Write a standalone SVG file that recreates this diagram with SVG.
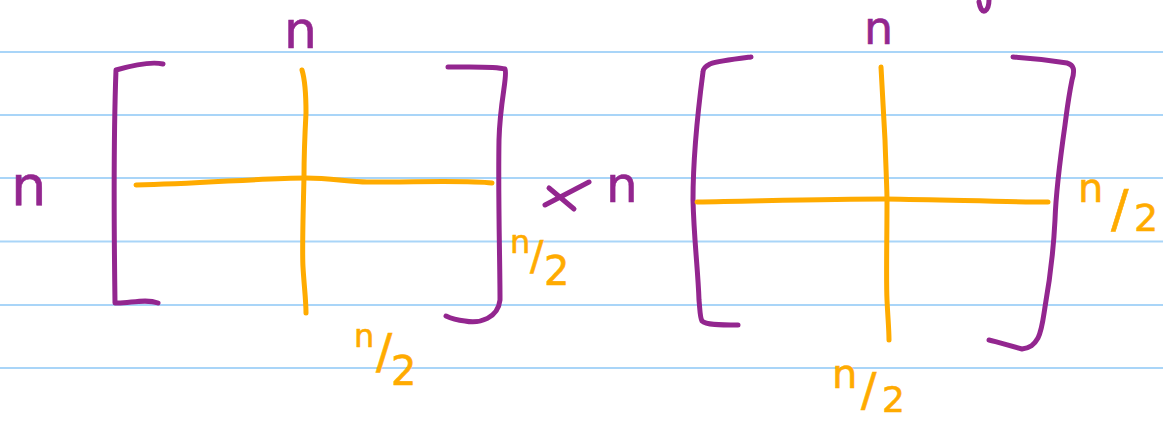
<svg xmlns="http://www.w3.org/2000/svg" width="1163" height="422" viewBox="0 0 1163 422">
<style>
.rule{stroke:#a9d5f8;stroke-width:2;fill:none}
.pu{stroke:#93268f;stroke-width:5;fill:none;stroke-linecap:round;stroke-linejoin:round}
.or{stroke:#ffab00;stroke-width:5;fill:none;stroke-linecap:round;stroke-linejoin:round}
.tp{font-family:"DejaVu Sans",sans-serif;fill:#93268f;stroke:#93268f;stroke-width:0.6}
.to{font-family:"DejaVu Sans",sans-serif;fill:#ffab00;stroke:#ffab00;stroke-width:0.6}
</style>
<rect width="1163" height="422" fill="#ffffff"/>
<g id="rules">
<line class="rule" x1="0" y1="52" x2="1163" y2="52"/>
<line class="rule" x1="0" y1="115" x2="1163" y2="115"/>
<line class="rule" x1="0" y1="178" x2="1163" y2="178"/>
<line class="rule" x1="0" y1="241.5" x2="1163" y2="241.5"/>
<line class="rule" x1="0" y1="305" x2="1163" y2="305"/>
<line class="rule" x1="0" y1="368" x2="1163" y2="368"/>
</g>
<g id="matrix-left">
<path class="pu" d="M163,64 C150,61 130,66 116,70 C113,150 114,230 115,303 C128,304 145,298 158,303"/>
<path class="pu" d="M448,67 C470,67 495,66 505,69 C508,75 500,100 499,140 C498,200 500,260 500,300 C498,318 480,324 465,321 C455,320 450,318 446,316"/>
<path class="or" d="M136,185 C200,184 260,178 306,178 C330,178 350,182 367,182 C420,182 470,180 492,183"/>
<path class="or" d="M302,70 C305,80 306,100 306,113 C304,150 304,177 304,177 C303,220 302,250 303,267 C304,285 306,300 306,313"/>
</g>
<g id="matrix-right">
<path class="pu" d="M751,57 C735,59 718,61 710,64 C704,67 703,70 703,72 C698,110 693,160 693,200 C694,240 698,270 699,300 C700,310 700,318 702,321 C706,325 720,325 738,325"/>
<path class="pu" d="M1013,57 C1030,58 1055,61 1067,63 C1074,65 1075,70 1072,80 C1068,100 1067,110 1065,125 C1060,160 1056,190 1055,220 C1053,260 1048,290 1045,307 C1043,320 1042,330 1038,338 C1034,345 1030,348 1022,349 C1010,346 998,342 989,340"/>
<path class="or" d="M697,202 C760,201 830,199 885,199 C950,200 1010,202 1048,202"/>
<path class="or" d="M881,67 C883,100 884,120 885,140 C886,170 887,190 887,200 C887,240 886,280 887,300 C888,320 889,330 889,340"/>
</g>
<g id="labels">
<text class="tp" x="284" y="48" font-size="52">n</text>
<text class="tp" x="11" y="205" font-size="56">n</text>
<path class="pu" d="M545,205 L589,182 M549,188 L574,209"/>
<text class="tp" x="606" y="202" font-size="50">n</text>
<text class="to" font-size="32"><tspan x="510" y="253">n</tspan><tspan x="530" y="270" font-size="40">/</tspan><tspan x="544" y="285" font-size="40">2</tspan></text>
<text class="to" font-size="32"><tspan x="354" y="347">n</tspan><tspan x="376" y="368" font-size="48">/</tspan><tspan x="391" y="385" font-size="40">2</tspan></text>
<text class="tp" x="864" y="44" font-size="46">n</text>
<text class="to" font-size="40"><tspan x="1078" y="202">n</tspan><tspan x="1111" y="227" font-size="52">/</tspan><tspan x="1134" y="231" font-size="38">2</tspan></text>
<text class="to" font-size="40"><tspan x="832" y="388">n</tspan><tspan x="861" y="406" font-size="46">/</tspan><tspan x="882" y="412" font-size="36">2</tspan></text>
<path class="pu" d="M979,2 C980,8 982,12 985,11 C988,9 989,4 989,0"/>
</g>
</svg>
